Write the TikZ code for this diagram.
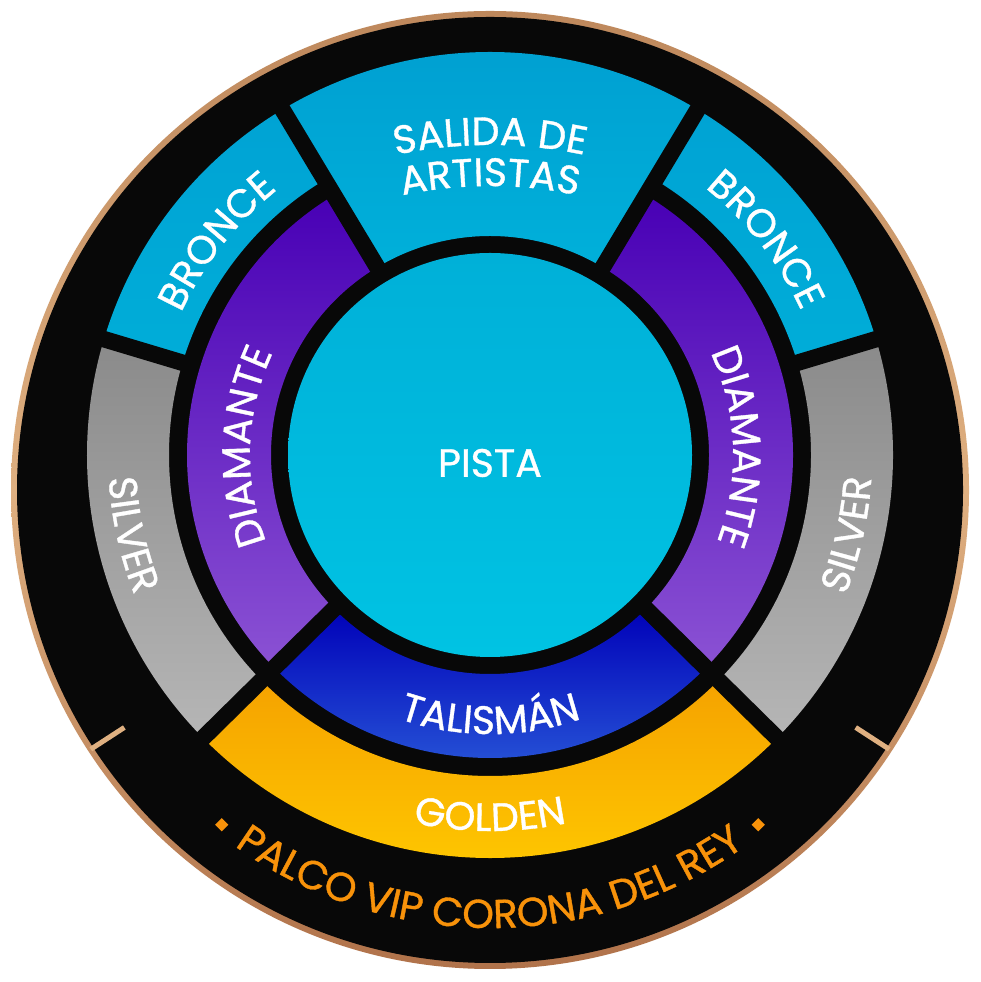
\documentclass[tikz,border=0pt]{standalone}
\usepackage{fontspec}
\setmainfont{Poppins}
\newfontfamily\lblfam{Poppins}[FakeBold=0.9]
\usetikzlibrary{decorations.text,shapes.geometric}
\definecolor{segblack}{HTML}{080808}
\definecolor{copperL}{HTML}{DFB081}
\definecolor{copperT}{HTML}{BE885C}
\definecolor{copperB}{HTML}{B0724A}
\definecolor{pistaT}{HTML}{00B0D8}
\definecolor{pistaB}{HTML}{00C3E3}
\definecolor{salidaT}{HTML}{009FD1}
\definecolor{salidaB}{HTML}{00B0DA}
\definecolor{bronceT}{HTML}{00A3D4}
\definecolor{bronceB}{HTML}{00ADD8}
\definecolor{diamT}{HTML}{4800B5}
\definecolor{diamB}{HTML}{8B52D4}
\definecolor{silverT}{HTML}{8A8A8A}
\definecolor{silverB}{HTML}{B6B6B6}
\definecolor{talT}{HTML}{0000B8}
\definecolor{talB}{HTML}{2857D8}
\definecolor{goldT}{HTML}{F5A200}
\definecolor{goldB}{HTML}{FFC900}
\definecolor{palco}{HTML}{F8920A}
\newcommand\lbl{\lblfam\fontsize{22.5pt}{25pt}\selectfont}
\newcommand\palcofont{\lblfam\fontsize{23pt}{26pt}\selectfont}
\newcommand\annsec[4]{(#1:#4) arc[start angle=#1,end angle=#2,radius=#4] -- (#2:#3) arc[start angle=#2,end angle=#1,radius=#3] -- cycle}
\begin{document}
\begin{tikzpicture}[x=0.02cm, y=0.02cm,
  sep/.style={draw=segblack, line width=0.33cm},
  tickline/.style={draw=copperL, line width=0.1cm},
  arctext/.style={decorate, decoration={text along path, text={|\lbl|#1}, text color=white, text align=center}},
  palcotext/.style={decorate, decoration={text along path, text={|\palcofont|#1}, text color=palco, text align=center}},
  dotmark/.style={diamond, fill=palco, inner sep=0pt, minimum size=0.27cm}]
\useasboundingbox (0,0) rectangle (980,982);
\fill[white] (0,0) rectangle (980,982);
% outer copper rim and black disk
\shade[top color=copperT, bottom color=copperB, middle color=copperL] (490,492) circle[radius=479];
\fill[segblack] (490,492) circle[radius=473];
\begin{scope}[shift={(490,492)}]
  \draw[tickline] (213:436) -- (213:476);
  \draw[tickline] (327:436) -- (327:476);
  \path[palcotext=PALCO VIP CORONA DEL REY] (205:438) arc[start angle=205, end angle=335, radius=438];
  \node[dotmark] (dotL) at (231.3:429) {};
  \node[dotmark] (dotR) at (308.7:429) {};
\end{scope}
\begin{scope}[shift={(490,527)}]
  % sectors
  \shade[top color=salidaT, bottom color=salidaB] \annsec{59}{121}{219}{403};
  \shade[top color=bronceT, bottom color=bronceB] \annsec{121}{163}{321}{403};
  \shade[top color=bronceT, bottom color=bronceB] \annsec{17}{59}{321}{403};
  \shade[top color=diamT, bottom color=diamB] \annsec{121}{225}{219}{303};
  \shade[top color=diamT, bottom color=diamB] \annsec{-45}{59}{219}{303};
  \shade[top color=silverT, bottom color=silverB] \annsec{163}{225}{321}{403};
  \shade[top color=silverT, bottom color=silverB] \annsec{-45}{17}{321}{403};
  \shade[top color=talT, bottom color=talB] \annsec{224}{316}{219}{303};
  \shade[top color=goldT, bottom color=goldB] \annsec{224}{316}{321}{403};
  \shade[top color=pistaT, bottom color=pistaB] (0,0) circle[radius=202];
  % separators
  \draw[sep] (59:212) -- (59:410);
  \draw[sep] (121:212) -- (121:410);
  \draw[sep] (163.3:312) -- (163.3:410);
  \draw[sep] (16.7:312) -- (16.7:410);
  \draw[sep] (224.6:212) -- (224.6:410);
  \draw[sep] (315.4:212) -- (315.4:410);
  % labels
  \node[text=white, font=\lbl] (pista) at (0,-8) {PISTA};
  \path[arctext=BRONCE] (162:340) arc[start angle=162, end angle=122, radius=340];
  \path[arctext=BRONCE] (58:343) arc[start angle=58, end angle=18, radius=343];
  \path[arctext=DIAMANTE] (208:240) arc[start angle=208, end angle=148, radius=240];
  \path[arctext=DIAMANTE] (32:243) arc[start angle=32, end angle=-28, radius=243];
  \path[arctext=SILVER] (167:382) arc[start angle=167, end angle=218, radius=382];
  \path[arctext=SILVER] (-38:382) arc[start angle=-38, end angle=13, radius=382];
  \path[arctext=TALISMÁN] (230:279) arc[start angle=230, end angle=310, radius=279];
  \path[arctext=GOLDEN] (240:376) arc[start angle=240, end angle=300, radius=376];
\end{scope}
\begin{scope}[shift={(490,382)}]
  \path[arctext={SALIDA DE}] (112:455) arc[start angle=112, end angle=68, radius=455];
  \path[arctext=ARTISTAS] (112:414) arc[start angle=112, end angle=68, radius=414];
\end{scope}
\end{tikzpicture}
\end{document}
